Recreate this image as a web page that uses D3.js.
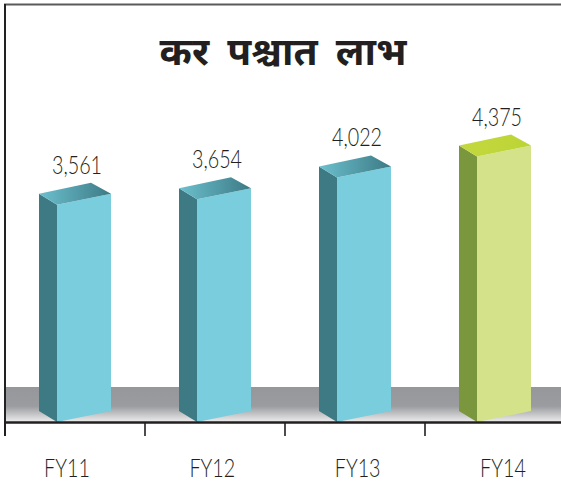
<!DOCTYPE html>
<html>
<head>
<meta charset="utf-8">
<script src="https://cdn.jsdelivr.net/npm/d3@7"></script>
<style>
  html, body { margin: 0; padding: 0; background: #fff; }
  svg { display: block; }
</style>
</head>
<body>
<svg id="chart" width="561" height="482"></svg>
<script>
const title = "कर पश्चात लाभ";
const categories = ["FY11", "FY12", "FY13", "FY14"];
const values = [3561, 3654, 4022, 4375];
const valueLabels = ["3,561", "3,654", "4,022", "4,375"];
const highlight = [false, false, false, true];

const W = 561, H = 482;
const baseY = 422;
const svg = d3.select("#chart");
const defs = svg.append("defs");

const floorGrad = defs.append("linearGradient").attr("id", "floorGrad")
  .attr("x1", 0).attr("y1", 0).attr("x2", 0).attr("y2", 1);
floorGrad.append("stop").attr("offset", "0%").attr("stop-color", "#96979b");
floorGrad.append("stop").attr("offset", "55%").attr("stop-color", "#9b9c9f");
floorGrad.append("stop").attr("offset", "100%").attr("stop-color", "#ededee");

const topBlue = defs.append("linearGradient").attr("id", "topBlue")
  .attr("x1", 0).attr("y1", 0).attr("x2", 1).attr("y2", 0);
topBlue.append("stop").attr("offset", "0%").attr("stop-color", "#6cc0ce");
topBlue.append("stop").attr("offset", "100%").attr("stop-color", "#3c7a85");

const topGreen = defs.append("linearGradient").attr("id", "topGreen")
  .attr("x1", 0).attr("y1", 0).attr("x2", 1).attr("y2", 0);
topGreen.append("stop").attr("offset", "0%").attr("stop-color", "#c3d83f");
topGreen.append("stop").attr("offset", "100%").attr("stop-color", "#bdd435");

// scales
const x = d3.scaleBand().domain(categories).range([5, 565]).paddingInner(0).paddingOuter(0);
const y = d3.scaleLinear().domain([0, 4375]).range([416, 156.5]);
const xl = d3.scalePoint().domain(categories).range([67, 503]);

const numFont = "Lato, 'Open Sans', 'Liberation Sans', sans-serif";
const squeeze = 0.79;

// frame
svg.append("line").attr("x1", 4).attr("x2", W).attr("y1", 4.5).attr("y2", 4.5)
  .attr("stroke", "#5a5a5a").attr("stroke-width", 2);
svg.append("line").attr("x1", 5).attr("x2", 5).attr("y1", 4).attr("y2", 436)
  .attr("stroke", "#222").attr("stroke-width", 2);

// floor band
svg.append("rect").attr("x", 6).attr("y", 387).attr("width", W - 6).attr("height", baseY - 387)
  .attr("fill", "url(#floorGrad)");

// title
svg.append("text").attr("x", 283).attr("y", 65).attr("text-anchor", "middle")
  .attr("font-family", "'Noto Sans Devanagari','Lohit Devanagari','Mukta','Noto Sans',sans-serif")
  .attr("font-weight", "bold").attr("font-size", 39).attr("fill", "#231f20")
  .attr("word-spacing", 8)
  .text(title);

// bars
const off = 52, fw = 54, rise = 11, dx = 18, dy = 11;
const g = svg.append("g");
categories.forEach((c, i) => {
  const fx = x(c) + off;
  const yt = y(values[i]);
  const hl = highlight[i];
  const front = hl ? "#d4e389" : "#79cddd";
  const side = hl ? "#7b973e" : "#3e7a84";
  const topFill = hl ? "url(#topGreen)" : "url(#topBlue)";
  g.append("path").attr("d", d3.line()([
    [fx, yt], [fx - dx, yt - dy], [fx - dx, baseY - dy], [fx, baseY]
  ]) + "Z").attr("fill", side);
  g.append("path").attr("d", d3.line()([
    [fx, yt], [fx + fw, yt - rise], [fx + fw, baseY - rise], [fx, baseY]
  ]) + "Z").attr("fill", front);
  g.append("path").attr("d", d3.line()([
    [fx, yt], [fx - dx, yt - dy], [fx - dx + fw - 2, yt - dy - rise], [fx + fw, yt - rise]
  ]) + "Z").attr("fill", topFill);
  g.append("text")
    .attr("transform", `translate(${fx + 20},${yt - 31}) scale(${squeeze},1)`)
    .attr("text-anchor", "middle")
    .attr("font-family", numFont).attr("font-weight", 300)
    .attr("font-size", 25).attr("fill", "#231f20")
    .text(valueLabels[i]);
});

// axis
const axisG = svg.append("g").attr("transform", `translate(0,${baseY})`);
axisG.append("line").attr("x1", 5).attr("x2", W).attr("y1", 0.5).attr("y2", 0.5)
  .attr("stroke", "#231f20").attr("stroke-width", 2.5);
axisG.selectAll("line.tick").data(categories).enter().append("line")
  .attr("class", "tick")
  .attr("x1", d => x(d)).attr("x2", d => x(d))
  .attr("y1", 0).attr("y2", 14)
  .attr("stroke", "#231f20").attr("stroke-width", 1.6);
axisG.selectAll("text.cat").data(categories).enter().append("text")
  .attr("class", "cat")
  .attr("transform", d => `translate(${xl(d)},55) scale(${squeeze},1)`)
  .attr("text-anchor", "middle")
  .attr("font-family", numFont).attr("font-weight", 300)
  .attr("font-size", 25).attr("fill", "#231f20")
  .text(d => d);
</script>
</body>
</html>
